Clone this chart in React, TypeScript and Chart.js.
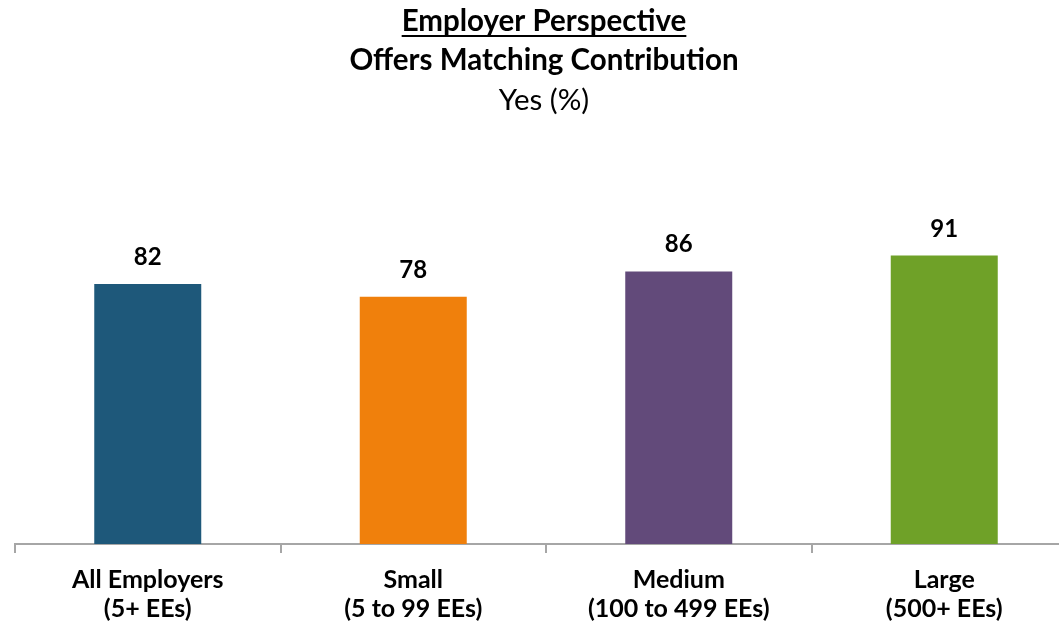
import React, { useEffect, useRef } from "react";
import { Chart, registerables } from "chart.js";

Chart.register(...registerables);

const categories: string[][] = [
  ["All Employers", "(5+ EEs)"],
  ["Small", "(5 to 99 EEs)"],
  ["Medium", "(100 to 499 EEs)"],
  ["Large", "(500+ EEs)"],
];
const values: number[] = [82, 78, 86, 91];
const barColors: string[] = ["#1E587A", "#F0800C", "#624A7A", "#6FA128"];
const titleLines: string[] = ["Employer Perspective", "Offers Matching Contribution", "Yes (%)"];

const FONT = "Lato, 'Open Sans', sans-serif";

const titlePlugin = {
  id: "customTitle",
  afterDraw(chart: any) {
    const ctx = chart.ctx;
    const cx = 544;
    ctx.save();
    ctx.fillStyle = "#000";
    ctx.textAlign = "center";
    ctx.textBaseline = "middle";
    const specs = [
      { text: titleLines[0], y: 21, bold: true, underline: true },
      { text: titleLines[1], y: 60, bold: true, underline: false },
      { text: titleLines[2], y: 100, bold: false, underline: false },
    ];
    for (const s of specs) {
      ctx.font = `${s.bold ? "bold " : ""}29.5px ${FONT}`;
      ctx.fillText(s.text, cx, s.y);
      if (s.underline) {
        const w = ctx.measureText(s.text).width;
        ctx.fillRect(cx - w / 2, s.y + 14, w, 2);
      }
    }
    ctx.restore();
  },
};

const labelPlugin = {
  id: "valueLabels",
  afterDatasetsDraw(chart: any) {
    const ctx = chart.ctx;
    const meta = chart.getDatasetMeta(0);
    ctx.save();
    ctx.fillStyle = "#000";
    ctx.textAlign = "center";
    ctx.textBaseline = "alphabetic";
    ctx.font = `bold 24px ${FONT}`;
    meta.data.forEach((bar: any, i: number) => {
      ctx.fillText(String(values[i]), bar.x, bar.y - 19);
    });
    ctx.restore();
  },
};

export default function App() {
  const ref = useRef<HTMLCanvasElement>(null);
  useEffect(() => {
    if (!ref.current) return;
    const chart = new Chart(ref.current, {
      type: "bar",
      data: {
        labels: categories,
        datasets: [
          {
            data: values,
            backgroundColor: barColors,
            categoryPercentage: 1,
            barPercentage: 0.403,
          },
        ],
      },
      options: {
        animation: false,
        responsive: false,
        layout: { padding: { top: 227, left: 15, right: 3, bottom: 0 } },
        plugins: {
          legend: { display: false },
          title: { display: false },
          tooltip: { enabled: false },
        },
        scales: {
          x: {
            grid: {
              display: true,
              drawOnChartArea: false,
              drawTicks: true,
              tickLength: 9,
              color: "#A6A6A6",
              lineWidth: 2,
              offset: true,
            },
            border: { display: true, color: "#A6A6A6", width: 2 },
            ticks: {
              color: "#000",
              font: { family: FONT, size: 25, weight: "bold", lineHeight: 1.18 },
              padding: 12,
              maxRotation: 0,
              autoSkip: false,
            },
          },
          y: {
            display: false,
            min: 0,
            max: 100,
          },
        },
      },
      plugins: [titlePlugin, labelPlugin],
    });
    return () => chart.destroy();
  }, []);
  return (
    <div style={{ position: "fixed", left: 0, top: 0, width: 1059, height: 623, background: "#fff", overflow: "hidden" }}>
      <canvas ref={ref} width={1080} height={636} style={{ width: 1080, height: 636, display: "block" }} />
    </div>
  );
}
